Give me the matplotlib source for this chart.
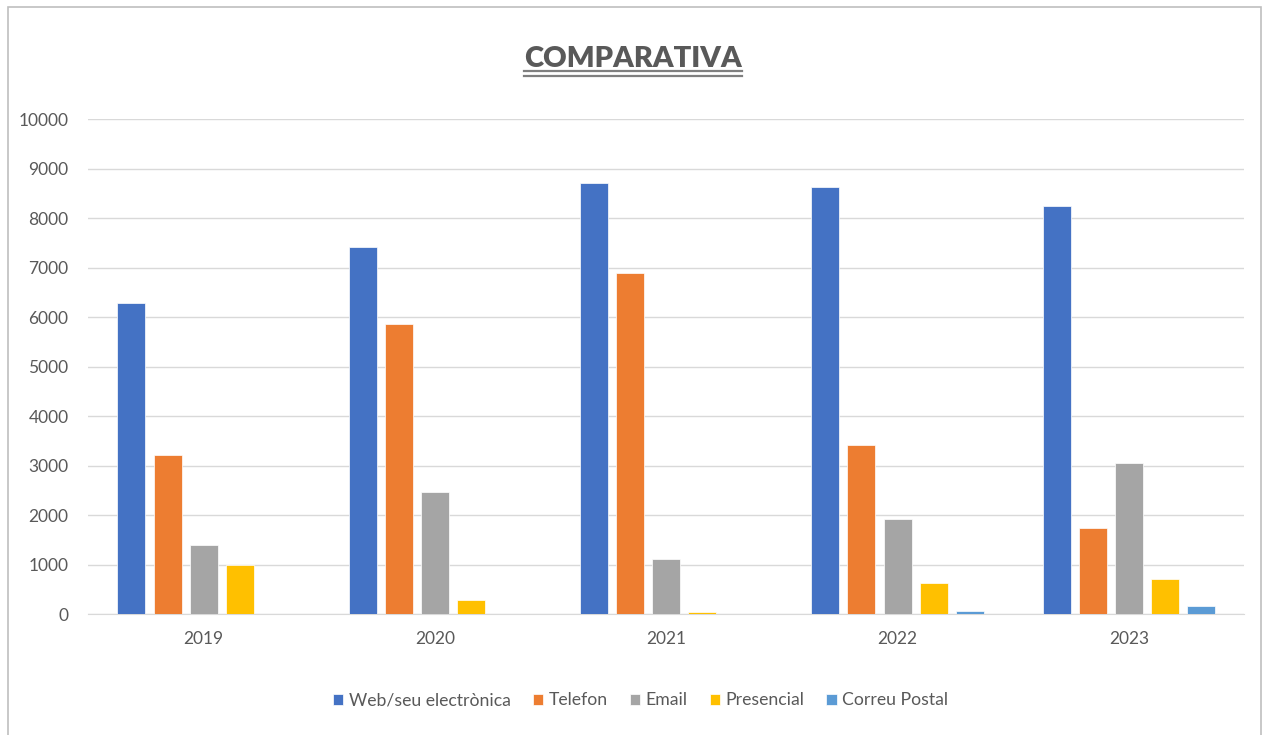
import numpy as np
import matplotlib.pyplot as plt
from matplotlib.lines import Line2D
from matplotlib.patches import Rectangle

# dades
years = ['2019', '2020', '2021', '2022', '2023']
web = [6280, 7420, 8710, 8630, 8250]
telefon = [3210, 5860, 6880, 3410, 1730]
email = [1390, 2465, 1110, 1910, 3050]
presencial = [1000, 290, 40, 620, 700]
correu = [8, 8, 8, 70, 160]

series = [web, telefon, email, presencial, correu]
labels = ['Web/seu electrònica', 'Telefon', 'Email', 'Presencial', 'Correu Postal']
colors = ['#4472c4', '#ed7d31', '#a5a5a5', '#ffc000', '#5b9bd5']

plt.rcParams['font.family'] = ['Lato', 'DejaVu Sans']

fig = plt.figure(figsize=(12.66, 7.35), dpi=100)
ax = fig.add_axes([0.0695, 0.1646, 0.9135, 0.6734])

x = np.arange(len(years))
pitch = 0.156
width = 0.121
for i, (vals, lab, col) in enumerate(zip(series, labels, colors)):
    ax.bar(x + (i - 2) * pitch, vals, width, color=col, label=lab,
           edgecolor='white', linewidth=0.5, zorder=3)

ax.set_xlim(-0.5, len(years) - 0.5)
ax.set_ylim(0, 10000)
ax.set_yticks(range(0, 10001, 1000))
ax.set_xticks(x)
ax.set_xticklabels(years)
ax.grid(axis='y', color='#d9d9d9', linewidth=1, zorder=0)
for s in ['top', 'right', 'left']:
    ax.spines[s].set_visible(False)
ax.spines['bottom'].set_color('#d9d9d9')
ax.tick_params(axis='both', length=0, labelsize=12.5, colors='#595959')
ax.tick_params(axis='x', pad=12)
ax.tick_params(axis='y', pad=14)

# titol amb doble subratllat
title = fig.text(0.5, 0.92, 'COMPARATIVA', ha='center', va='center',
                 fontsize=21, fontweight='heavy', color='#595959')
fig.canvas.draw()
bb = title.get_window_extent().transformed(fig.transFigure.inverted())
for dy in (-0.001, 0.006):
    fig.add_artist(Line2D([bb.x0, bb.x1], [bb.y0 - dy, bb.y0 - dy],
                          color='#7f7f7f', linewidth=1.6))

leg = fig.legend(loc='center', bbox_to_anchor=(0.506, 0.047), ncol=5,
                 frameon=False, fontsize=12.7, handlelength=0.6, handleheight=0.6,
                 handletextpad=0.3, columnspacing=1.25)
for t in leg.get_texts():
    t.set_color('#595959')

# marc del grafic
fig.add_artist(Rectangle((0.006, -0.01), 0.99, 1.0, transform=fig.transFigure,
                         fill=False, edgecolor='#bfbfbf', linewidth=1.2))

fig.savefig('out.png', dpi=100)
